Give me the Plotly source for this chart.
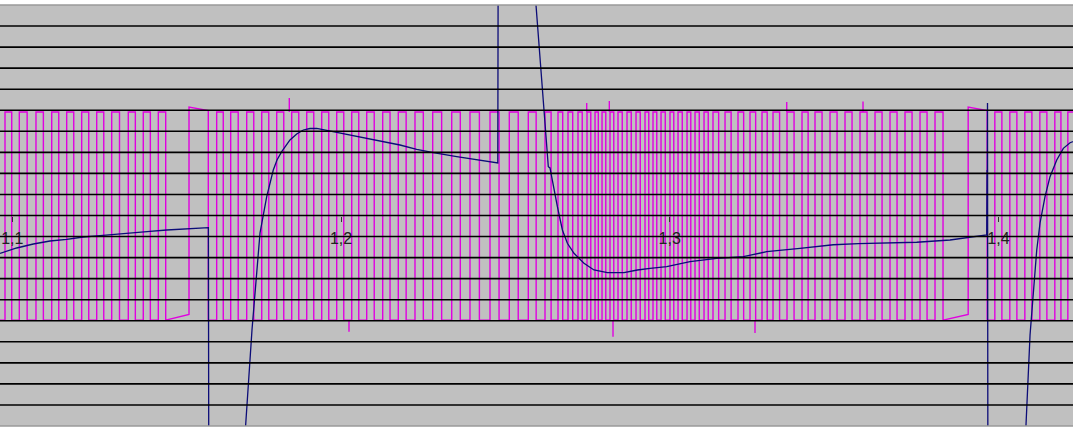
import plotly.graph_objects as go

# ---------------- data ----------------
# time axis (s), tick labels use decimal comma
tick_vals = [1.1, 1.2, 1.3, 1.4]
tick_text = ["1,1", "1,2", "1,3", "1,4"]
x_range = [1.09626, 1.42269]
y_range = [-10, 10]            # vertical divisions
grid_vals = list(range(-9, 10))

# magenta: crank-sensor square wave (rising-edge times)
sig_high = 4.92
sig_low = -4.97
duty = 0.47
seg_a_rises = [1.09778, 1.10213, 1.10721, 1.11199, 1.11655, 1.12111, 1.12568,
               1.13024, 1.13529, 1.13985, 1.14442]
seg_a_last_fall = 1.14667
gap_a = [1.15376, 1.15963]     # long high pulse (rise, fall)
seg_b_rises = [1.16218, 1.16644, 1.17131, 1.17588, 1.18044, 1.18500, 1.18957,
               1.19413, 1.19869, 1.20326, 1.20782, 1.21269, 1.21743, 1.22251,
               1.22790, 1.23368, 1.23924, 1.24533, 1.25120, 1.25698, 1.26206,
               1.26602, 1.26906, 1.27210, 1.27484, 1.27728, 1.27941, 1.28184,
               1.28427, 1.28701, 1.28975, 1.29249, 1.29492, 1.29736, 1.30009,
               1.30253, 1.30527, 1.30770, 1.31044, 1.31317, 1.31683, 1.32078,
               1.32443, 1.32808, 1.33143, 1.33569, 1.34025, 1.34420, 1.34877,
               1.35333, 1.35789, 1.36246, 1.36702, 1.37158, 1.37615, 1.38071]
seg_b_last_fall = 1.38315
gap_b = [1.39080, 1.39657]
seg_c_rises = [1.39891, 1.40347, 1.40804, 1.41260, 1.41716, 1.42112]
seg_c_last_fall = 1.42331
gap_low_end = -4.70            # low level drifts up during the gap
gap_high_start = 5.15
gap_high_end = 4.98

# small glitches on the magenta trace
glitch_t = [1.18427, 1.27475, 1.28163, 1.33560, 1.35881, 1.20243, 1.28275, 1.32595]
glitch_base = [4.92, 4.92, 4.92, 4.92, 4.92, -4.97, -4.97, -4.97]
glitch_tip = [5.58, 5.34, 5.44, 5.39, 5.42, -5.52, -5.76, -5.58]

# blue: analog signal (divisions), values beyond +/-10 are clipped off screen
blue_t = [1.09626, 1.10134, 1.10639, 1.11147, 1.11655, 1.12160, 1.12668, 1.13176,
          1.13681, 1.14189, 1.14697, 1.15202, 1.15710, 1.15966, 1.15978, 1.16988,
          1.17292, 1.17414, 1.17536, 1.17636, 1.17740, 1.17940, 1.18053, 1.18196,
          1.18448, 1.18652, 1.18853, 1.19057, 1.19261, 1.19757, 1.20274, 1.21086,
          1.21795, 1.22303, 1.22808, 1.23520, 1.24128, 1.24737, 1.24770, 1.24782,
          1.25896, 1.25932, 1.26033, 1.26115, 1.26206, 1.26307, 1.26358, 1.26480,
          1.26583, 1.26735, 1.26887, 1.27088, 1.27392, 1.27696, 1.28104, 1.28609,
          1.29016, 1.29401, 1.29909, 1.30618, 1.31430, 1.32239, 1.32951, 1.33964,
          1.34977, 1.35740, 1.36498, 1.37514, 1.38528, 1.39340, 1.39644, 1.39653,
          1.39659, 1.39668, 1.39680, 1.40764, 1.40962, 1.41044, 1.41166, 1.41266,
          1.41418, 1.41570, 1.41774, 1.41975, 1.42179, 1.42483]
blue_v = [-1.796, -1.544, -1.354, -1.211, -1.131, -1.021, -0.960, -0.879,
          -0.817, -0.751, -0.689, -0.641, -0.608, -0.580, -12.57, -12.57,
          -5.44, -3.14, -0.831, 0.02, 0.893, 2.162, 2.637, 3.031,
          3.587, 3.872, 4.062, 4.133, 4.143, 3.981, 3.824, 3.587,
          3.349, 3.145, 2.983, 2.793, 2.637, 2.508, 2.494, 12.64,
          12.64, 10.0, 7.99, 5.995, 4.537, 2.318, 2.257, 1.211,
          0.418, -0.689, -1.321, -1.796, -2.271, -2.589, -2.717, -2.717,
          -2.589, -2.508, -2.432, -2.195, -2.033, -1.957, -1.720, -1.558,
          -1.390, -1.340, -1.320, -1.270, -1.164, -1.007, -0.926, 2.162,
          -0.926, 5.344, -12.57, -12.57, -5.677, -4.157, -1.639, -0.356,
          0.893, 1.843, 2.637, 3.192, 3.458, 3.634]

# ---------------- build magenta waveform from edges ----------------
def square(rises, last_fall):
    xs, ys = [], []
    for i, r in enumerate(rises):
        f = r + duty * (rises[i + 1] - r) if i + 1 < len(rises) else last_fall
        xs += [r, r, f, f]
        ys += [sig_low, sig_high, sig_high, sig_low]
    return xs, ys

mx, my = [x_range[0]], [sig_low]
for rises, lf, gap in [(seg_a_rises, seg_a_last_fall, gap_a),
                       (seg_b_rises, seg_b_last_fall, gap_b),
                       (seg_c_rises, seg_c_last_fall, None)]:
    xs, ys = square(rises, lf)
    mx += xs
    my += ys
    if gap:
        mx += [gap[0], gap[0], gap[1], gap[1]]
        my += [gap_low_end, gap_high_start, gap_high_end, sig_low]

gx, gy = [], []
for t, b, tip in zip(glitch_t, glitch_base, glitch_tip):
    gx += [t, t, None]
    gy += [b, tip, None]

mag = "#e000e0"
fig = go.Figure()
fig.add_trace(go.Scatter(x=mx, y=my, mode="lines", line=dict(color=mag, width=1.4),
                         hoverinfo="skip"))
fig.add_trace(go.Scatter(x=gx, y=gy, mode="lines", line=dict(color=mag, width=1.4),
                         hoverinfo="skip"))
fig.add_trace(go.Scatter(x=blue_t, y=blue_v, mode="lines",
                         line=dict(color="#0c0c78", width=1.3), hoverinfo="skip"))

# horizontal division lines drawn above the traces, as on the scope screen
grid_shapes = [dict(type="line", xref="paper", yref="y", x0=0, x1=1, y0=v, y1=v,
                    layer="above", line=dict(color="black", width=1.6))
               for v in grid_vals]
border_shapes = [
    dict(type="line", xref="paper", yref="paper", x0=0, x1=1, y0=1, y1=1,
         line=dict(color="#9a9a9a", width=1.5)),
    dict(type="line", xref="paper", yref="paper", x0=0, x1=1, y0=0, y1=0,
         line=dict(color="#9a9a9a", width=1.5)),
]

fig.update_layout(
    width=1073, height=430,
    margin=dict(l=0, r=0, t=5, b=4),
    paper_bgcolor="white", plot_bgcolor="#c0c0c0",
    showlegend=False,
    xaxis=dict(range=x_range, showgrid=False, zeroline=False, showline=False,
               tickmode="array", tickvals=tick_vals, ticktext=tick_text,
               ticks="outside", ticklen=5, tickwidth=1, tickcolor="#333333",
               anchor="free", position=0.5, ticklabelstandoff=3,
               tickfont=dict(family="Liberation Sans", size=16, color="#222222")),
    yaxis=dict(range=y_range, tickmode="array", tickvals=grid_vals,
               showticklabels=False, ticks="", showgrid=False,
               zeroline=False, showline=False),
    shapes=grid_shapes + border_shapes,
)

fig.write_html("out.html", config={"displayModeBar": False, "staticPlot": True},
               post_script="document.body.style.margin='0';document.body.style.overflow='hidden';")
